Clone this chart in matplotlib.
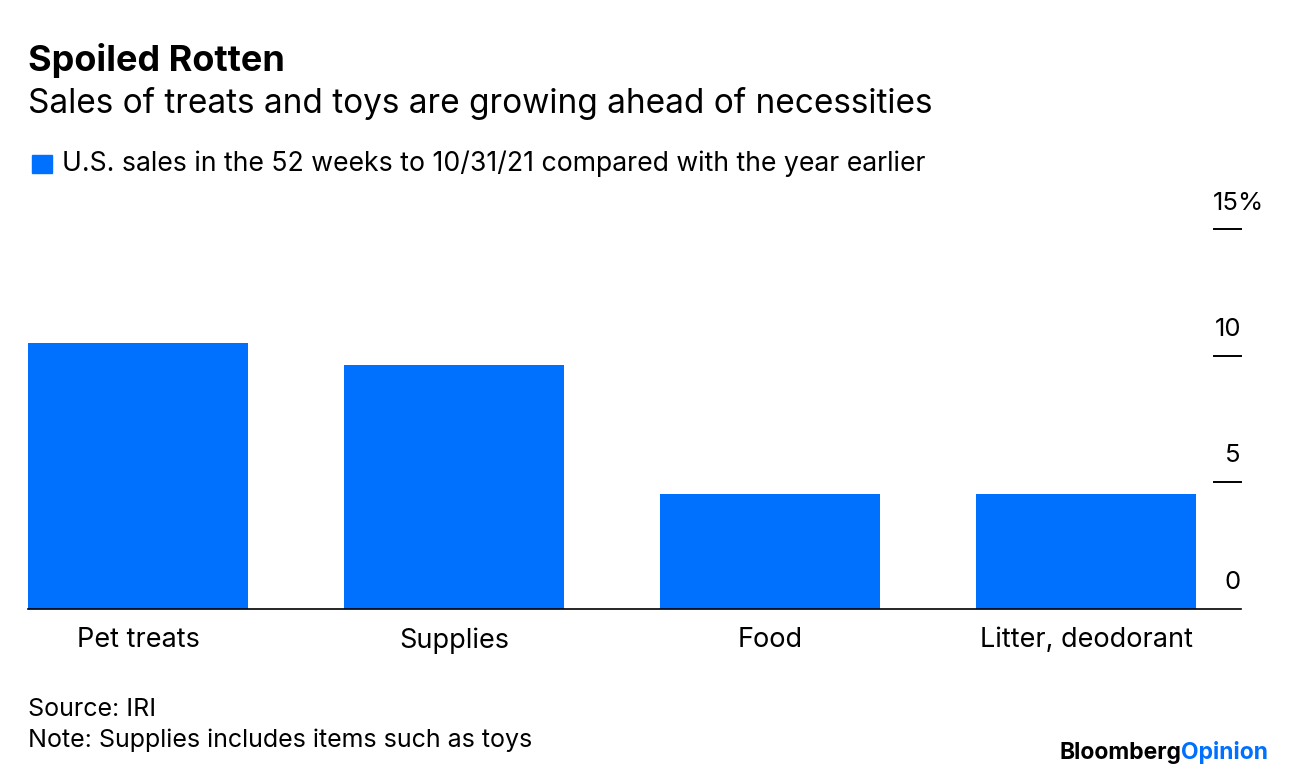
import matplotlib
matplotlib.use("Agg")
import matplotlib.pyplot as plt

categories = ["Pet treats", "Supplies", "Food", "Litter, deodorant"]
values = [10.5, 9.63, 4.54, 4.54]
yticks = [0, 5, 10, 15]
ytick_labels = ["0", "5", "10", "15%"]

title = "Spoiled Rotten"
subtitle = "Sales of treats and toys are growing ahead of necessities"
legend_label = "U.S. sales in the 52 weeks to 10/31/21 compared with the year earlier"
source = "Source: IRI"
note = "Note: Supplies includes items such as toys"

BLUE = "#0070FF"
W, H = 1296, 778
plt.rcParams['font.family'] = ['Inter', 'DejaVu Sans']

fig = plt.figure(figsize=(W / 100, H / 100), dpi=100)
fig.patch.set_facecolor("white")

def fx(px):
    return px / W

def fy(py):
    return 1 - py / H

ax = fig.add_axes([fx(28), fy(609), fx(1241) - fx(28), fy(229) - fy(609)])
x = list(range(len(categories)))
ax.bar(x, values, width=0.696, color=BLUE, zorder=2)
ax.set_xlim(-0.348, 3.49)
ax.set_ylim(0, 15)
for s in ["top", "right", "left"]:
    ax.spines[s].set_visible(False)
ax.spines["bottom"].set_color("black")
ax.spines["bottom"].set_linewidth(1.2)
ax.spines["bottom"].set_zorder(3)
ax.set_yticks([])
ax.set_xticks(x)
ax.set_xticklabels(categories, fontsize=19.5)
ax.tick_params(axis="x", length=0, pad=13)

# right-side tick marks and labels
xr0, xr1 = 3.405, 3.49
for v, lab in zip(yticks, ytick_labels):
    if v != 0:
        ax.plot([xr0, xr1], [v, v], color="black", lw=1.4, clip_on=False, zorder=3)
    if lab.endswith("%"):
        ax.annotate(lab, xy=(xr0, v), xytext=(-1, 18.5), textcoords="offset points",
                    ha="left", va="center", fontsize=18.5, annotation_clip=False)
    else:
        ax.annotate(lab, xy=(xr1, v), xytext=(0, 19), textcoords="offset points",
                    ha="right", va="center", fontsize=18.5, annotation_clip=False)

fig.text(fx(28), fy(61), title, fontsize=26, fontweight="bold", va="center", ha="left")
fig.text(fx(28), fy(104), subtitle, fontsize=24, va="center", ha="left")
fig.patches.append(plt.Rectangle((fx(32), fy(173)), fx(20), fy(155) - fy(173),
                                 transform=fig.transFigure, color=BLUE, figure=fig))
fig.text(fx(62), fy(164), legend_label, fontsize=19.2, va="center", ha="left")
fig.text(fx(28), fy(709), source, fontsize=18, va="center", ha="left")
fig.text(fx(28), fy(740), note, fontsize=18, va="center", ha="left")

t1 = fig.text(fx(1268), fy(753), "Opinion", fontsize=16.5, fontweight="bold",
              color=BLUE, va="center", ha="right")
fig.canvas.draw()
bb = t1.get_window_extent()
fig.text(bb.x0 / W, fy(753), "Bloomberg", fontsize=16.5, fontweight="bold",
         color="black", va="center", ha="right")

fig.savefig("out.png", dpi=100, facecolor="white")
